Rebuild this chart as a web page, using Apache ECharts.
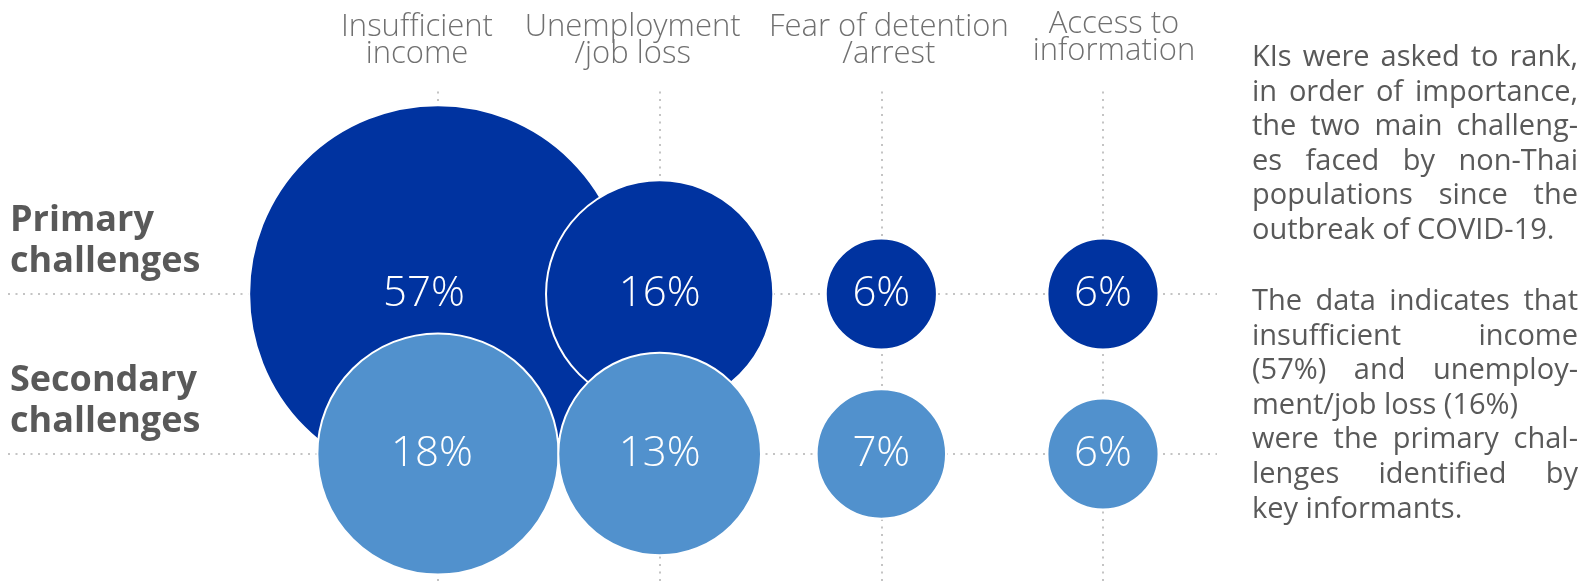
<!DOCTYPE html>
<html>
<head>
<meta charset="utf-8">
<script src="https://cdn.jsdelivr.net/npm/echarts@6/dist/echarts.min.js"></script>
<style>
  html, body { margin: 0; padding: 0; background: #ffffff; }
  #chart { width: 1586px; height: 581px; }
</style>
</head>
<body>
<div id="chart"></div>
<script>
// Challenges (columns) and ranking rows
const categories = ['Insufficient\nincome', 'Unemployment\n/job loss', 'Fear of detention\n/arrest', 'Access to\ninformation'];
const rowNames = ['Primary\nchallenges', 'Secondary\nchallenges'];

// Share of key informants (%) per challenge
const primaryValues = [57, 16, 6, 6];
const secondaryValues = [18, 13, 7, 6];

// Side note, line by line as set in the report
const noteParagraph1 = [
  'KIs were asked to rank,',
  'in order of importance,',
  'the two main challeng-',
  'es faced by non-Thai',
  'populations since the',
  'outbreak of COVID-19.'
];
const noteParagraph2 = [
  'The data indicates that',
  'insufficient income',
  '(57%) and unemploy-',
  'ment/job loss (16%)',
  'were the primary chal-',
  'lenges identified by',
  'key informants.'
];
// lines that keep natural spacing (paragraph ends / forced breaks)
const raggedLines = ['outbreak of COVID-19.', 'ment/job loss (16%)', 'key informants.'];

const FONT = '"Open Sans", "Noto Sans", sans-serif';
const DARK_BLUE = '#0033a0';
const LIGHT_BLUE = '#5191cd';
const GRID_GREY = '#c4c4c4';

// bubble diameter grows with the log of the share
const bubbleDiameter = v => 2 * (59.2 * Math.log(v) - 50.5);

const chart = echarts.init(document.getElementById('chart'), null, { renderer: 'canvas' });

// ---- side note, justified ----
const NOTE_LEFT = 1252, NOTE_WIDTH = 326, NOTE_SIZE = 29, NOTE_LEADING = 34.6;
const noteFont = `400 ${NOTE_SIZE}px ${FONT}`;
const measureCtx = document.createElement('canvas').getContext('2d');
measureCtx.font = noteFont;

function noteLine(text, baseline) {
  const y = baseline - NOTE_SIZE * 0.32;
  const base = { fill: '#595959', font: noteFont, textAlign: 'left', textVerticalAlign: 'middle', align: 'left', verticalAlign: 'middle' };
  const words = text.split(' ');
  if (raggedLines.includes(text) || words.length < 2) {
    return [{ type: 'text', x: NOTE_LEFT, y, silent: true, style: Object.assign({ text }, base) }];
  }
  const widths = words.map(w => measureCtx.measureText(w).width);
  const total = widths.reduce((a, b) => a + b, 0);
  const gap = (NOTE_WIDTH - total) / (words.length - 1);
  let x = NOTE_LEFT;
  return words.map((w, k) => {
    const el = { type: 'text', x, y, silent: true, style: Object.assign({ text: w }, base) };
    x += widths[k] + gap;
    return el;
  });
}

const noteElements = [];
noteParagraph1.forEach((t, i) => noteElements.push(...noteLine(t, 67 + i * NOTE_LEADING)));
noteParagraph2.forEach((t, i) => noteElements.push(...noteLine(t, 311 + i * NOTE_LEADING)));

// ---- grid guides with column and row titles ----
// padding nudges each column title sideways so neighbours do not collide
const titlePadding = [[0, 42, 0, 0], [0, 54, 0, 0], [0, 0, 0, 15], [0, 0, 0, 22]];
const titleDistance = [21, 21, 21, 24];
const columnGuides = categories.map((name, i) => ({
  xAxis: i,
  label: {
    show: true, position: 'end', distance: titleDistance[i], formatter: name,
    padding: titlePadding[i],
    color: '#707070', fontFamily: FONT, fontSize: 31, fontWeight: 300, lineHeight: 27, align: 'center'
  }
}));
const rowGuides = rowNames.map((name, i) => ({
  yAxis: 1 - i,
  label: {
    show: true, position: 'insideStartTop', distance: [2, 12], formatter: name,
    color: '#595959', fontFamily: FONT, fontSize: 36, fontWeight: 'bold', lineHeight: 41, align: 'left'
  }
}));

function bubbleSeries(name, values, row, color, labelShift) {
  return {
    name, type: 'scatter', zlevel: 1, z: 3,
    data: values.map((v, i) => ({
      value: [i, row, v],
      label: { offset: [labelShift[i] || 0, 0] }
    })),
    symbol: 'circle',
    symbolSize: d => bubbleDiameter(d[2]),
    itemStyle: { color, borderColor: '#ffffff', borderWidth: 2, opacity: 1 },
    label: {
      show: true, position: 'inside',
      formatter: p => p.value[2] + '%',
      color: '#ffffff', fontFamily: FONT, fontSize: 42, fontWeight: 300
    },
    emphasis: { disabled: true }
  };
}

chart.setOption({
  animation: false,
  backgroundColor: '#ffffff',
  textStyle: { fontFamily: FONT },
  grid: { left: 8, right: 369, top: 89, bottom: 0, containLabel: false },
  xAxis: { type: 'value', min: -1.9398, max: 3.5143, show: false },
  yAxis: { type: 'value', min: -0.79375, max: 2.28125, show: false },
  tooltip: { show: false },
  series: [
    {
      name: 'guides', type: 'scatter', zlevel: 0, z: 1, data: [], silent: true,
      markLine: {
        silent: true, symbol: ['none', 'none'], animation: false,
        lineStyle: { color: GRID_GREY, width: 2, type: [2, 5.5] },
        emphasis: { disabled: true },
        data: columnGuides.concat(rowGuides)
      }
    },
    // the large bubble's value sits slightly left, clear of the overlapping neighbour
    bubbleSeries('Primary challenges', primaryValues, 1, DARK_BLUE, [-14, 0, 0, 0]),
    bubbleSeries('Secondary challenges', secondaryValues, 0, LIGHT_BLUE, [-6, 0, 0, 0])
  ],
  graphic: { elements: noteElements }
});
</script>
</body>
</html>
